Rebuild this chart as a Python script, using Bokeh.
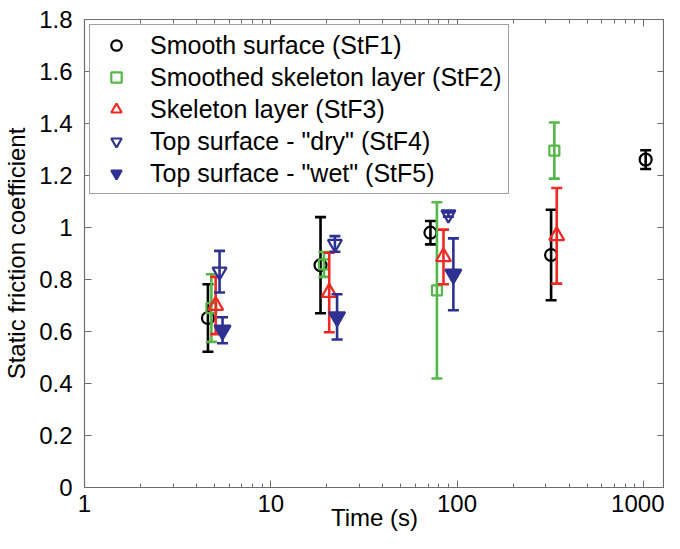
from bokeh.plotting import figure
from bokeh.models import (ColumnDataSource, FixedTicker, CustomJSTickFormatter, LinearAxis,
                          LogAxis, Legend, LegendItem, Range1d)
from bokeh.embed import file_html
from bokeh.resources import INLINE

# ---- data (time in s, mean static friction coefficient, error half-width) ----
t1 = [4.6, 18.5, 72, 320, 1030]
mu1 = [0.652, 0.855, 0.980, 0.894, 1.261]
er1 = [0.130, 0.185, 0.045, 0.174, 0.036]

t2 = [4.8, 19.3, 78, 333]
mu2 = [0.690, 0.858, 0.758, 1.296]
er2 = [0.130, 0.048, 0.339, 0.108]

t3 = [5.06, 20.6, 84.6, 343]
mu3 = [0.700, 0.750, 0.887, 0.968]
er3 = [0.110, 0.153, 0.105, 0.184]

t4 = [5.31, 22.1, 89.9]
mu4 = [0.830, 0.937, 1.050]
er4 = [0.080, 0.030, 0.008]

t5 = [5.51, 22.7, 95.6]
mu5 = [0.605, 0.656, 0.820]
er5 = [0.050, 0.087, 0.138]

labels = ["Smooth surface (StF1)", "Smoothed skeleton layer (StF2)", "Skeleton layer (StF3)",
          "Top surface - \"dry\" (StF4)", "Top surface - \"wet\" (StF5)"]

x_major = [1, 10, 100, 1000]
x_minor = [2, 3, 4, 5, 6, 7, 8, 9, 20, 30, 40, 50, 60, 70, 80, 90,
           200, 300, 400, 500, 600, 700, 800, 900]
y_ticks = [0, 0.2, 0.4, 0.6, 0.8, 1.0, 1.2, 1.4, 1.6, 1.8]

FONT = "Liberation Sans"
AX = "#6d6d6d"

p = figure(width=664, height=533, x_axis_type="log",
           x_range=Range1d(1, 1300), y_range=Range1d(0, 1.8),
           output_backend="svg", toolbar_location=None,
           min_border_left=73, min_border_top=19, min_border_right=0, min_border_bottom=40)
p.grid.visible = False
p.outline_line_color = AX
p.outline_line_width = 1.2

xt = FixedTicker(ticks=x_major, minor_ticks=x_minor)
yt = FixedTicker(ticks=y_ticks)

xa = p.xaxis[0]
xa.ticker = xt
xa.formatter = CustomJSTickFormatter(code="return tick.toFixed(0)")
ya = p.yaxis[0]
ya.ticker = yt
ya.formatter = CustomJSTickFormatter(code="return (Math.round(tick*10)/10).toString()")

for ax in (xa, ya):
    ax.axis_line_color = AX
    ax.major_tick_line_color = AX
    ax.minor_tick_line_color = AX
    ax.major_tick_in = 7
    ax.major_tick_out = 0
    ax.minor_tick_in = 4
    ax.minor_tick_out = 0
    ax.major_label_text_font = FONT
    ax.major_label_text_font_size = "24px"
    ax.major_label_text_color = "black"
    ax.axis_label_text_font = FONT
    ax.axis_label_text_font_size = "24px"
    ax.axis_label_text_font_style = "normal"
    ax.axis_label_text_color = "black"
ya.minor_tick_line_color = None
xa.axis_label = "Time (s)"
ya.axis_label = "Static friction coefficient"
xa.major_label_standoff = 7
xa.axis_label_standoff = -11
ya.major_label_standoff = 12
ya.axis_label_standoff = 6

blank = CustomJSTickFormatter(code="return ''")
top = LogAxis(ticker=xt, formatter=blank, major_label_standoff=0, axis_label_standoff=0,
              major_label_text_font_size="1px",
              axis_line_color=AX, major_tick_line_color=AX, minor_tick_line_color=AX,
              major_tick_in=7, major_tick_out=0, minor_tick_in=4, minor_tick_out=0)
p.add_layout(top, "above")
right = LinearAxis(ticker=yt, formatter=blank, major_label_standoff=0, axis_label_standoff=0,
                   major_label_text_font_size="1px",
                   axis_line_color=AX, major_tick_line_color=AX, minor_tick_line_color=None,
                   major_tick_in=7, major_tick_out=0)
p.add_layout(right, "right")

series = [
    (t1, mu1, er1, "black", "circle", 12, False),
    (t2, mu2, er2, "#55b848", "square", 10, False),
    (t3, mu3, er3, "#ee2a24", "triangle", 15, False),
    (t4, mu4, er4, "#2e3192", "inverted_triangle", 14, False),
    (t5, mu5, er5, "#2e3192", "inverted_triangle", 16, True),
]

items = []
for (t, mu, er, col, mk, sz, filled), lab in zip(series, labels):
    lo = [m - e for m, e in zip(mu, er)]
    hi = [m + e for m, e in zip(mu, er)]
    src = ColumnDataSource(dict(x=t, y=mu, lo=lo, hi=hi))
    p.segment(x0="x", y0="lo", x1="x", y1="hi", source=src, line_color=col, line_width=2.6)
    p.scatter(x="x", y="lo", source=src, marker="dash", size=11, line_color=col, line_width=2.6)
    p.scatter(x="x", y="hi", source=src, marker="dash", size=11, line_color=col, line_width=2.6)
    mr = p.scatter(x="x", y="y", source=src, marker=mk, size=sz, line_color=col, line_width=2.2,
                   fill_color=col if filled else None)
    items.append(LegendItem(label=lab, renderers=[mr]))

legend = Legend(items=items, location="top_left", margin=5, padding=4, spacing=0,
                glyph_width=44, glyph_height=26, label_height=32, label_standoff=12,
                label_width=354,
                label_text_font=FONT, label_text_font_size="25px", label_text_color="black",
                border_line_color="#444444", border_line_width=1.2,
                background_fill_color="white", background_fill_alpha=1)
p.add_layout(legend, "center")

open("out.html", "w").write(file_html(p, INLINE))
